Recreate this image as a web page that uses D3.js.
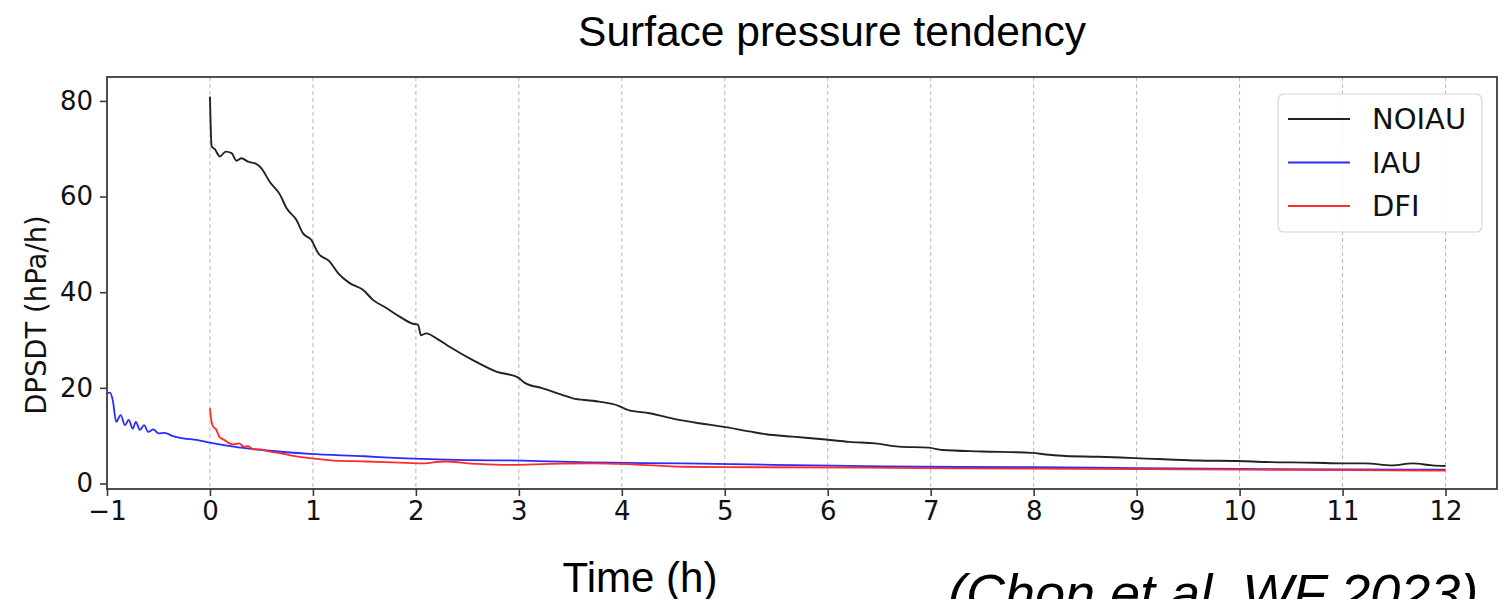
<!DOCTYPE html>
<html><head><meta charset="utf-8">
<script src="https://cdn.jsdelivr.net/npm/d3@7"></script>
<style>html,body{margin:0;padding:0;background:#fff;overflow:hidden}</style>
</head><body>
<svg id="chart" width="1504" height="599"></svg>
<script>
// ---- data ----
const xTicks = [-1,0,1,2,3,4,5,6,7,8,9,10,11,12];
const yTicks = [0,20,40,60,80];
const seriesNames = ["NOIAU","IAU","DFI"];
const seriesColors = ["#222222","#2b2bff","#ff2b2b"];

const noiauT = [0,0.016,0.047,0.096,0.154,0.21,0.258,0.306,0.37,0.452,0.5,0.58,0.68,0.743,0.84,0.904,0.985,1.05,1.163,1.244,1.357,1.486,1.583,1.713,1.842,1.971,2.02,2.05,2.1,2.21,2.327,2.553,2.78,2.99,3.054,3.232,3.426,3.523,3.717,3.976,4.057,4.27,4.53,4.75,4.978,5.236,5.4,5.66,5.98,6.21,6.46,6.69,6.98,7.11,7.5,7.98,8.15,8.31,8.63,8.98,9.27,9.6,9.99,10.25,10.73,10.99,11.22,11.48,11.68,11.87,12];
const noiauV = [80.9,70.5,69.9,68.4,69.4,69.1,67.5,68.0,67.3,66.8,65.9,63.1,60.4,57.6,55.1,52.3,50.9,48.2,46.4,44.0,41.9,40.5,38.4,36.7,34.9,33.4,33.2,31.0,31.4,30.2,28.6,25.8,23.4,22.2,21.1,19.9,18.5,17.8,17.3,16.2,15.4,14.7,13.4,12.6,11.9,10.9,10.3,9.8,9.2,8.7,8.4,7.7,7.5,7.0,6.7,6.4,6.0,5.75,5.6,5.3,5.06,4.8,4.7,4.5,4.35,4.2,4.2,3.8,4.2,3.8,3.66];

const iauT = [-1.0,-0.97,-0.945,-0.91,-0.867,-0.825,-0.79,-0.75,-0.72,-0.68,-0.64,-0.6,-0.55,-0.5,-0.44,-0.36,-0.26,-0.13,0.01,0.23,0.55,0.97,1.5,1.84,2.49,3.04,3.72,4.6,5.47,6.37,6.89,8,9,10,11,12];
const iauV = [18.9,19.0,17.5,12.9,14.3,12.2,13.3,11.5,12.9,11.2,12.2,10.8,11.3,10.5,10.6,9.9,9.45,9.1,8.5,7.7,6.9,6.2,5.7,5.3,4.9,4.8,4.4,4.2,3.9,3.65,3.5,3.4,3.2,3.05,2.95,2.9];

const dfiT = [0.0,0.01,0.03,0.06,0.09,0.14,0.18,0.23,0.28,0.33,0.37,0.42,0.49,0.55,0.65,0.78,0.97,1.2,1.52,1.84,2.07,2.27,2.6,2.91,3.3,3.72,4.1,4.6,5.4,6.37,6.89,8,9,10,11,12];
const dfiV = [15.7,13.6,11.9,11.3,9.8,9.1,8.5,8.2,8.4,7.7,7.8,7.15,7.15,6.8,6.45,5.9,5.3,4.8,4.6,4.35,4.2,4.6,4.1,3.9,4.1,4.2,4.0,3.5,3.4,3.3,3.2,3.1,3.0,2.9,2.8,2.7];

const titleText = "Surface pressure tendency";
const xLabelText = "Time (h)";
const yLabelText = "DPSDT (hPa/h)";
const citeText = "(Chon et al. WF 2023)";

// ---- layout ----
const svg = d3.select("#chart");
const L = 107, T = 77, R = 1497, B = 489;
const x = d3.scaleLinear().domain([-1, 12.5]).range([L, R]);
const y = d3.scaleLinear().domain([-1.15, 85]).range([B, T]);
const tickFont = "'DejaVu Sans', sans-serif";
const frameColor = "#3c3c3c";

// grid
svg.append("g").selectAll("line").data(xTicks.filter(d => d > -1)).join("line")
  .attr("x1", d => x(d)).attr("x2", d => x(d)).attr("y1", T).attr("y2", B)
  .attr("stroke", "#b8b8b8").attr("stroke-width", 1).attr("stroke-dasharray", "4,3");

// series
const line = d3.line().curve(d3.curveMonotoneX).x(d => x(d[0])).y(d => y(d[1]));
const series = [d3.zip(noiauT, noiauV), d3.zip(iauT, iauV), d3.zip(dfiT, dfiV)];
svg.append("g").selectAll("path").data([series[1], series[2], series[0]]).join("path")
  .attr("d", line).attr("fill", "none")
  .attr("stroke", (d, i) => [seriesColors[1], seriesColors[2], seriesColors[0]][i])
  .attr("stroke-width", (d, i) => i === 2 ? 1.9 : 1.8)
  .attr("stroke-linejoin", "round");

// frame
svg.append("rect").attr("x", L).attr("y", T).attr("width", R - L).attr("height", B - T)
  .attr("fill", "none").attr("stroke", frameColor).attr("stroke-width", 1.8);

// axes
const xAxis = svg.append("g").attr("transform", `translate(0,${B})`)
  .call(d3.axisBottom(x).tickValues(xTicks).tickSize(7).tickPadding(6)
    .tickFormat(d => d < 0 ? "\u2212" + Math.abs(d) : d));
xAxis.select(".domain").remove();
xAxis.selectAll("line").attr("stroke", frameColor).attr("stroke-width", 1.6);
xAxis.selectAll("text").attr("font-family", tickFont).attr("font-size", 26).attr("fill", "#111");

const yAxis = svg.append("g").attr("transform", `translate(${L},0)`)
  .call(d3.axisLeft(y).tickValues(yTicks).tickSize(7).tickPadding(7));
yAxis.select(".domain").remove();
yAxis.selectAll("line").attr("stroke", frameColor).attr("stroke-width", 1.6);
yAxis.selectAll("text").attr("font-family", tickFont).attr("font-size", 26).attr("fill", "#111");

// y label
svg.append("text").attr("transform", `translate(46,${(T + B) / 2 + 32}) rotate(-90)`)
  .attr("text-anchor", "middle").attr("font-family", tickFont).attr("font-size", 27.5)
  .attr("fill", "#111").text(yLabelText);

// title, x label, citation
svg.append("text").attr("x", 832).attr("y", 46).attr("text-anchor", "middle")
  .attr("font-family", "'Liberation Sans', Arial, sans-serif").attr("font-size", 42.5)
  .attr("fill", "#000").text(titleText);
svg.append("text").attr("x", 640).attr("y", 592).attr("text-anchor", "middle")
  .attr("font-family", "'Liberation Sans', Arial, sans-serif").attr("font-size", 42)
  .attr("fill", "#000").text(xLabelText);
svg.append("text").attr("x", 948).attr("y", 612).attr("text-anchor", "start")
  .attr("font-family", "'Liberation Sans', Arial, sans-serif").attr("font-size", 54)
  .attr("font-style", "italic").attr("fill", "#000").text(citeText);

// legend
const lg = svg.append("g");
lg.append("rect").attr("x", 1278).attr("y", 94).attr("width", 204).attr("height", 138)
  .attr("rx", 6).attr("fill", "#fff").attr("fill-opacity", 0.85)
  .attr("stroke", "#d6d6d6").attr("stroke-width", 1.2);
const items = lg.selectAll("g.item").data(seriesNames).join("g")
  .attr("transform", (d, i) => `translate(1288,${119 + i * 43.5})`);
items.append("line").attr("x1", 0).attr("x2", 62).attr("y1", 0).attr("y2", 0)
  .attr("stroke", (d, i) => seriesColors[i]).attr("stroke-width", 1.8);
items.append("text").attr("x", 84).attr("y", 0).attr("dy", "0.36em")
  .attr("font-family", tickFont).attr("font-size", 29).attr("fill", "#111").text(d => d);
</script>
</body></html>
